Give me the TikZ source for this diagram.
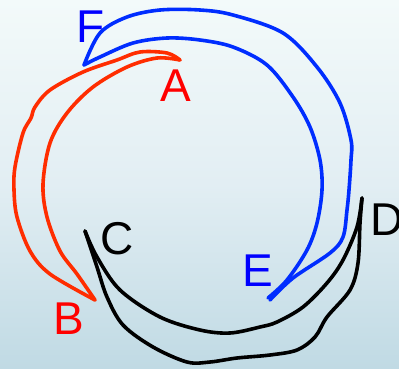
\documentclass[tikz,border=0pt]{standalone}
\usepackage{fontspec}
\setmainfont{Liberation Sans}
\definecolor{bgtop}{RGB}{243,250,250}
\definecolor{bgmid}{RGB}{226,238,243}
\definecolor{bgbot}{RGB}{192,218,228}
\definecolor{redline}{RGB}{255,45,0}
\definecolor{redtext}{RGB}{255,0,0}
\definecolor{blueline}{RGB}{0,45,255}
\definecolor{bluetext}{RGB}{0,0,255}
\tikzset{
  arcline/.style={line width=3.6pt, line cap=round, line join=round},
  lbl/.style={font=\fontsize{46}{46}\selectfont, inner sep=0pt, anchor=center}
}
\begin{document}
\begin{tikzpicture}[x=1pt,y=-1pt]
\useasboundingbox (0,0) rectangle (399,368);
\shade[top color=bgtop, bottom color=bgbot, middle color=bgmid] (0,0) rectangle (399,368);
% red crescent A-B
\draw[arcline, redline] plot[smooth, tension=0.55] coordinates {(180,60) (167,53) (140,52) (117,60) (83,72) (50,90) (35,107) (31,118) (23,133) (15,167) (14,190) (17,217) (30,251) (50,274) (95,300)};
\draw[arcline, redline] plot[smooth, tension=0.55] coordinates {(180,60) (157,58) (127,67) (93,87) (67,113) (50,143) (43,184) (47,217) (60,251) (77,274) (95,300)};
% blue crescent F-E
\draw[arcline, blueline] plot[smooth, tension=0.55] coordinates {(84,65) (100,33) (127,17) (160,10) (200,10) (233,15) (283,33) (317,67) (340,103) (351,140) (351,160) (349,190) (347,210) (343,237) (330,253) (293,278) (270,300)};
\draw[arcline, blueline] plot[smooth, tension=0.55] coordinates {(84,65) (100,57) (133,43) (167,38) (200,40) (233,47) (267,65) (293,97) (310,127) (320,160) (322,190) (317,223) (307,250) (287,280) (268,298)};
% black crescent C-D
\draw[arcline, black] plot[smooth, tension=0.55] coordinates {(85,231) (97,257) (120,290) (160,317) (200,330) (230,333) (260,327) (277,322) (303,307) (327,283) (343,260) (357,227) (362,198)};
\draw[arcline, black] plot[smooth, tension=0.55] coordinates {(85,231) (97,267) (107,297) (123,325) (153,347) (187,362) (210,362) (237,358) (270,355) (297,350) (315,337) (327,317) (350,290) (358,263) (360,223) (362,198)};
% labels
\node[lbl, text=bluetext] (F) at (91,27) {F};
\node[lbl, text=redtext] (A) at (176,86) {A};
\node[lbl, text=redtext] (B) at (69,319) {B};
\node[lbl, text=black] (C) at (117,239) {C};
\node[lbl, text=black] (D) at (387,220) {D};
\node[lbl, text=bluetext] (E) at (258,271) {E};
\end{tikzpicture}
\end{document}
